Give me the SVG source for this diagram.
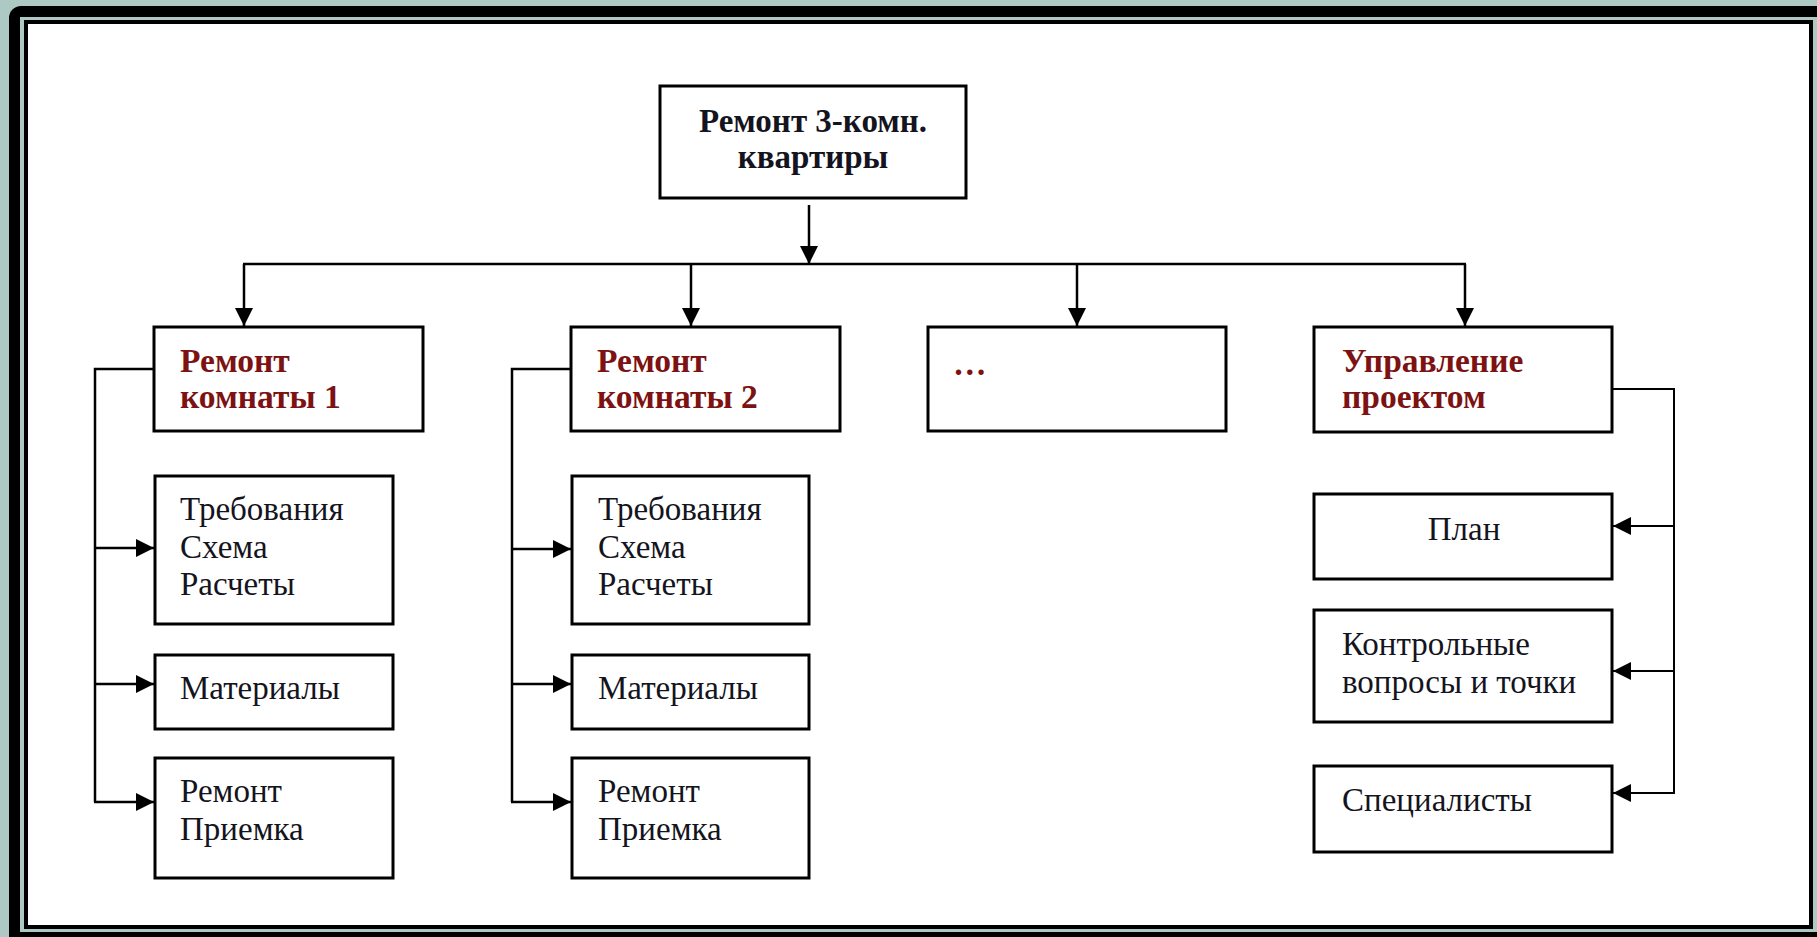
<svg xmlns="http://www.w3.org/2000/svg" width="1817" height="937" viewBox="0 0 1817 937">
  <style>
    .box { fill: #ffffff; stroke: #000000; stroke-width: 3; }
    .head { font-family: "Liberation Serif", "Times New Roman", serif; font-weight: bold; font-size: 33.5px; fill: #7c1212; }
    .title { font-family: "Liberation Serif", "Times New Roman", serif; font-weight: bold; font-size: 33px; fill: #141420; }
    .item { font-family: "Liberation Serif", "Times New Roman", serif; font-size: 33px; fill: #141420; }
    .link { fill: none; stroke: #000000; stroke-width: 2.5; }
    .link-thin { fill: none; stroke: #000000; stroke-width: 2; }
  </style>
  <defs>
    <marker id="arrow" viewBox="0 0 18 18" markerUnits="userSpaceOnUse" markerWidth="18" markerHeight="18" refX="18" refY="9" orient="auto">
      <path d="M0,0 L18,9 L0,18 z" fill="#000000"/>
    </marker>
  </defs>

  <!-- slide frame -->
  <g id="frame">
    <rect x="0" y="0" width="1817" height="937" fill="#aec8c4"/>
    <rect x="9" y="6" width="1840" height="960" rx="12" ry="12" fill="#000000"/>
    <rect x="20" y="17" width="1800" height="915" fill="#aec8c4"/>
    <rect x="24" y="20" width="1789" height="909" fill="#000000"/>
    <rect x="28" y="24" width="1781" height="901" fill="#ffffff"/>
  </g>

  <!-- connectors -->
  <g id="connectors">
    <line class="link" x1="809" y1="205" x2="809" y2="264" marker-end="url(#arrow)"/>
    <line class="link" x1="243" y1="264" x2="1466" y2="264"/>
    <line class="link" x1="244" y1="264" x2="244" y2="326" marker-end="url(#arrow)"/>
    <line class="link" x1="691" y1="264" x2="691" y2="326" marker-end="url(#arrow)"/>
    <line class="link" x1="1077" y1="264" x2="1077" y2="326" marker-end="url(#arrow)"/>
    <line class="link" x1="1465" y1="264" x2="1465" y2="326" marker-end="url(#arrow)"/>

    <polyline class="link" points="154,369 95,369 95,802"/>
    <line class="link" x1="95" y1="548" x2="154" y2="548" marker-end="url(#arrow)"/>
    <line class="link" x1="95" y1="684" x2="154" y2="684" marker-end="url(#arrow)"/>
    <line class="link" x1="94" y1="802" x2="154" y2="802" marker-end="url(#arrow)"/>

    <polyline class="link" points="571,369 512,369 512,802"/>
    <line class="link" x1="512" y1="549" x2="571" y2="549" marker-end="url(#arrow)"/>
    <line class="link" x1="512" y1="684" x2="571" y2="684" marker-end="url(#arrow)"/>
    <line class="link" x1="511" y1="802" x2="571" y2="802" marker-end="url(#arrow)"/>

    <polyline class="link-thin" points="1612,389 1674,389 1674,793"/>
    <line class="link-thin" x1="1675" y1="526" x2="1613" y2="526" marker-end="url(#arrow)"/>
    <line class="link-thin" x1="1675" y1="671" x2="1613" y2="671" marker-end="url(#arrow)"/>
    <line class="link-thin" x1="1675" y1="793" x2="1613" y2="793" marker-end="url(#arrow)"/>
  </g>

  <!-- root -->
  <g id="root">
    <rect class="box" x="660" y="86" width="306" height="112"/>
    <text class="title" x="813" y="132" text-anchor="middle">Ремонт 3-комн.</text>
    <text class="title" x="813" y="168" text-anchor="middle">квартиры</text>
  </g>

  <!-- room 1 -->
  <g id="room1">
    <rect class="box" x="154" y="327" width="269" height="104"/>
    <text class="head" x="180" y="372">Ремонт</text>
    <text class="head" x="180" y="408">комнаты 1</text>
  </g>
  <g id="room1-docs">
    <rect class="box" x="155" y="476" width="238" height="148"/>
    <text class="item" x="180" y="520">Требования</text>
    <text class="item" x="180" y="558">Схема</text>
    <text class="item" x="180" y="595">Расчеты</text>
  </g>
  <g id="room1-materials">
    <rect class="box" x="155" y="655" width="238" height="74"/>
    <text class="item" x="180" y="699">Материалы</text>
  </g>
  <g id="room1-works">
    <rect class="box" x="155" y="758" width="238" height="120"/>
    <text class="item" x="180" y="802">Ремонт</text>
    <text class="item" x="180" y="840">Приемка</text>
  </g>

  <!-- room 2 -->
  <g id="room2">
    <rect class="box" x="571" y="327" width="269" height="104"/>
    <text class="head" x="597" y="372">Ремонт</text>
    <text class="head" x="597" y="408">комнаты 2</text>
  </g>
  <g id="room2-docs">
    <rect class="box" x="572" y="476" width="237" height="148"/>
    <text class="item" x="598" y="520">Требования</text>
    <text class="item" x="598" y="558">Схема</text>
    <text class="item" x="598" y="595">Расчеты</text>
  </g>
  <g id="room2-materials">
    <rect class="box" x="572" y="655" width="237" height="74"/>
    <text class="item" x="598" y="699">Материалы</text>
  </g>
  <g id="room2-works">
    <rect class="box" x="572" y="758" width="237" height="120"/>
    <text class="item" x="598" y="802">Ремонт</text>
    <text class="item" x="598" y="840">Приемка</text>
  </g>

  <!-- other rooms -->
  <g id="more">
    <rect class="box" x="928" y="327" width="298" height="104"/>
    <text class="head" x="953" y="375">…</text>
  </g>

  <!-- project management -->
  <g id="management">
    <rect class="box" x="1314" y="327" width="298" height="105"/>
    <text class="head" x="1342" y="372">Управление</text>
    <text class="head" x="1342" y="408">проектом</text>
  </g>
  <g id="plan">
    <rect class="box" x="1314" y="494" width="298" height="85"/>
    <text class="item" x="1464" y="540" text-anchor="middle">План</text>
  </g>
  <g id="checkpoints">
    <rect class="box" x="1314" y="610" width="298" height="112"/>
    <text class="item" x="1342" y="655">Контрольные</text>
    <text class="item" x="1342" y="693">вопросы и точки</text>
  </g>
  <g id="specialists">
    <rect class="box" x="1314" y="766" width="298" height="86"/>
    <text class="item" x="1342" y="811">Специалисты</text>
  </g>
</svg>
